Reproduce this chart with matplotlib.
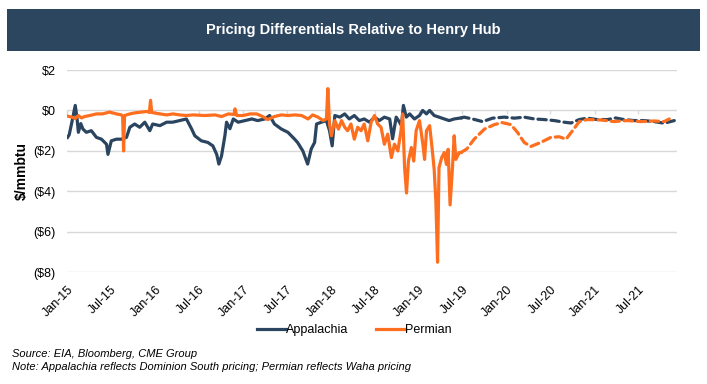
import matplotlib
matplotlib.use("Agg")
import matplotlib.pyplot as plt
import matplotlib.dates as mdates
from matplotlib.patches import Rectangle
import pandas as pd

plt.rcParams['font.family'] = ['Liberation Sans', 'DejaVu Sans']

# ---------------- data ----------------
app_hist_dates = [
    "2015-01-02", "2015-01-09", "2015-01-20", "2015-02-03", "2015-02-10", "2015-02-16",
    "2015-02-26", "2015-03-07", "2015-03-21", "2015-04-11", "2015-05-02", "2015-05-23",
    "2015-06-13", "2015-06-19", "2015-07-03", "2015-07-24", "2015-08-14", "2015-09-04",
    "2015-09-18", "2015-10-08", "2015-10-29", "2015-11-19", "2015-12-10", "2015-12-22",
    "2016-01-21", "2016-02-18", "2016-03-14", "2016-04-12", "2016-05-10", "2016-06-01",
    "2016-06-14", "2016-07-11", "2016-08-07", "2016-08-28", "2016-09-13", "2016-09-22",
    "2016-10-03", "2016-10-17", "2016-10-24", "2016-11-07", "2016-11-21", "2016-12-11",
    "2017-01-09", "2017-02-06", "2017-03-02", "2017-04-01", "2017-04-21", "2017-05-11",
    "2017-06-09", "2017-07-06", "2017-08-03", "2017-08-15", "2017-09-06", "2017-09-26",
    "2017-10-11", "2017-10-25", "2017-11-02", "2017-11-22", "2017-12-13", "2017-12-26",
    "2018-01-06", "2018-01-17", "2018-02-07", "2018-02-27", "2018-03-18", "2018-04-08",
    "2018-04-29", "2018-05-19", "2018-06-10", "2018-07-01", "2018-07-21", "2018-08-11",
    "2018-09-02", "2018-09-14", "2018-09-29", "2018-10-13", "2018-10-21", "2018-10-29",
    "2018-11-10", "2018-11-24", "2018-12-14", "2019-01-04", "2019-01-17", "2019-02-02",
    "2019-02-15", "2019-03-06", "2019-03-26", "2019-04-17", "2019-05-07", "2019-05-28",
    "2019-06-25",
]
app_hist_values = [
    -1.33, -1.20, -0.58, 0.25, -0.33, -1.08,
    -0.65, -0.92, -1.08, -1.00, -1.33, -1.42,
    -1.67, -2.17, -1.50, -1.42, -1.42, -1.33,
    -0.83, -0.67, -0.83, -0.58, -1.00, -0.67,
    -0.75, -0.58, -0.58, -0.50, -0.42, -0.92,
    -1.25, -1.50, -1.58, -1.75, -2.17, -2.65,
    -2.25, -1.25, -0.58, -0.90, -0.42, -0.58,
    -0.50, -0.42, -0.50, -0.42, -0.25, -0.67,
    -0.92, -1.08, -1.42, -1.58, -2.00, -2.65,
    -1.90, -1.58, -0.67, -0.58, -0.50, -1.00,
    -1.75, -0.25, -0.33, -0.17, -0.42, -0.25,
    -0.50, -0.42, -0.58, -0.33, -0.50, -0.33,
    -0.42, -1.40, -0.33, -0.58, -0.75, 0.25,
    -0.33, -0.17, -0.42, -0.25, 0.00, -0.17,
    0.00, -0.25, -0.33, -0.42, -0.50, -0.42,
    -0.37,
]

app_fut_dates = [
    "2019-06-25", "2019-07-08", "2019-08-12", "2019-09-23", "2019-11-04", "2019-12-22",
    "2020-02-03", "2020-03-14", "2020-04-25", "2020-06-05", "2020-07-17", "2020-08-27",
    "2020-09-25", "2020-10-29", "2020-12-01", "2021-01-12", "2021-02-23", "2021-03-29",
    "2021-05-03", "2021-06-14", "2021-07-25", "2021-09-05", "2021-10-17", "2021-11-28",
]
app_fut_values = [
    -0.37, -0.33, -0.42, -0.55, -0.38, -0.33,
    -0.38, -0.33, -0.42, -0.45, -0.50, -0.58,
    -0.62, -0.45, -0.38, -0.45, -0.45, -0.37,
    -0.45, -0.50, -0.50, -0.55, -0.63, -0.50,
]

perm_hist_dates = [
    "2015-01-02", "2015-01-20", "2015-02-03", "2015-02-16", "2015-03-01", "2015-03-14",
    "2015-04-04", "2015-05-02", "2015-05-27", "2015-06-26", "2015-07-24", "2015-08-14",
    "2015-08-19", "2015-08-23", "2015-08-27", "2015-09-18", "2015-10-08", "2015-11-06",
    "2015-11-29", "2015-12-08", "2015-12-13", "2015-12-18", "2016-01-21", "2016-02-18",
    "2016-03-15", "2016-04-12", "2016-05-10", "2016-06-07", "2016-07-25", "2016-09-06",
    "2016-10-03", "2016-11-01", "2016-11-24", "2016-11-28", "2016-12-05", "2017-01-01",
    "2017-01-30", "2017-02-26", "2017-03-23", "2017-04-13", "2017-05-11", "2017-06-09",
    "2017-07-06", "2017-08-03", "2017-09-01", "2017-09-28", "2017-10-17", "2017-11-08",
    "2017-11-29", "2017-12-13", "2017-12-19", "2017-12-26", "2018-01-03", "2018-01-17",
    "2018-02-01", "2018-02-14", "2018-02-27", "2018-03-11", "2018-03-25", "2018-04-08",
    "2018-04-22", "2018-05-06", "2018-05-19", "2018-06-03", "2018-06-17", "2018-07-01",
    "2018-07-14", "2018-07-28", "2018-08-11", "2018-08-25", "2018-09-09", "2018-09-22",
    "2018-10-06", "2018-10-19", "2018-10-26", "2018-11-03", "2018-11-11", "2018-11-19",
    "2018-12-01", "2018-12-11", "2018-12-21", "2019-01-04", "2019-01-18", "2019-01-25",
    "2019-02-02", "2019-02-15", "2019-02-25", "2019-03-06", "2019-03-13", "2019-03-20",
    "2019-03-26", "2019-04-06", "2019-04-17", "2019-04-26", "2019-05-03", "2019-05-11",
    "2019-05-21", "2019-05-28", "2019-06-04", "2019-06-18", "2019-06-25",
]
perm_hist_values = [
    -0.28, -0.33, -0.40, -0.25, -0.37, -0.30,
    -0.25, -0.17, -0.17, -0.08, -0.17, -0.22,
    -0.30, -2.00, -0.25, -0.17, -0.12, -0.08,
    -0.05, -0.10, 0.50, -0.10, -0.17, -0.22,
    -0.17, -0.22, -0.25, -0.22, -0.25, -0.22,
    -0.30, -0.17, -0.20, 0.08, -0.25, -0.25,
    -0.17, -0.17, -0.30, -0.45, -0.30, -0.22,
    -0.25, -0.22, -0.25, -0.42, -0.22, -0.33,
    -0.50, -0.42, 1.08, -0.67, -1.25, -0.50,
    -0.92, -0.50, -0.83, -1.00, -0.67, -1.42,
    -0.83, -1.00, -0.67, -1.50, -0.58, -0.25,
    -0.67, -0.83, -1.67, -1.17, -2.33, -1.67,
    -2.00, -1.00, -0.17, -2.83, -4.08, -2.50,
    -1.83, -2.50, -1.00, -0.50, -1.67, -2.42,
    -1.00, -0.75, -1.83, -2.92, -4.50, -7.50,
    -2.83, -2.33, -2.08, -2.67, -1.92, -4.67,
    -2.83, -1.25, -2.42, -2.08, -2.08,
]

perm_fut_dates = [
    "2019-06-25", "2019-07-20", "2019-08-19", "2019-10-01", "2019-11-11", "2019-12-14",
    "2020-01-19", "2020-02-15", "2020-03-14", "2020-04-11", "2020-05-22", "2020-07-03",
    "2020-08-07", "2020-09-04", "2020-10-01", "2020-10-29", "2020-12-01", "2021-01-28",
    "2021-03-22", "2021-05-16", "2021-07-11", "2021-09-05", "2021-10-17", "2021-11-07",
]
perm_fut_values = [
    -2.08, -1.90, -1.42, -0.92, -0.70, -0.60,
    -0.70, -1.08, -1.58, -1.78, -1.58, -1.33,
    -1.30, -1.42, -1.00, -0.55, -0.45, -0.47,
    -0.55, -0.50, -0.55, -0.52, -0.55, -0.42,
]

series_names = ["Appalachia", "Permian"]
y_ticks = [2, 0, -2, -4, -6, -8]
y_tick_labels = ["$2", "$0", "($2)", "($4)", "($6)", "($8)"]
x_tick_labels = ["Jan-15", "Jul-15", "Jan-16", "Jul-16", "Jan-17", "Jul-17", "Jan-18",
                 "Jul-18", "Jan-19", "Jul-19", "Jan-20", "Jul-20", "Jan-21", "Jul-21"]

title_text = "Pricing Differentials Relative to Henry Hub"
source_text = "Source: EIA, Bloomberg, CME Group"
note_text = "Note: Appalachia reflects Dominion South pricing; Permian reflects Waha pricing"

# ---------------- style ----------------
NAVY = "#2b4560"
BAR = "#2d4660"
ORANGE = "#fd6f1f"
GRID = "#d9d9d9"

W, H = 707, 384
fig = plt.figure(figsize=(W / 100, H / 100), dpi=100)

# title bar
fig.patches.append(Rectangle((7 / W, 1 - 51 / H), 693 / W, 42 / H,
                             transform=fig.transFigure, facecolor=BAR,
                             edgecolor="none", zorder=0))
fig.text(353.5 / W, 1 - 30 / H, title_text, color="white", fontsize=10.5,
         fontweight="bold", ha="center", va="center")

ax = fig.add_axes([67.3 / W, 1 - 272.3 / H, (676.7 - 67.3) / W, (272.3 - 70) / H])

ad = pd.to_datetime(app_hist_dates)
af = pd.to_datetime(app_fut_dates)
pdh = pd.to_datetime(perm_hist_dates)
pf = pd.to_datetime(perm_fut_dates)

LW = 2.3
ax.plot(ad, app_hist_values, color=NAVY, lw=LW, solid_joinstyle="round", zorder=3,
        label=series_names[0])
ax.plot(af, app_fut_values, color=NAVY, lw=LW, ls=(0, (2.6, 1.5)), dash_capstyle="round",
        zorder=3)
ax.plot(pdh, perm_hist_values, color=ORANGE, lw=LW, solid_joinstyle="round", zorder=4,
        label=series_names[1])
ax.plot(pf, perm_fut_values, color=ORANGE, lw=LW, ls=(0, (2.6, 1.5)), dash_capstyle="round",
        zorder=4)

ax.set_ylim(-8, 2)
ax.set_yticks(y_ticks)
ax.set_yticklabels(y_tick_labels)
ax.set_xlim(pd.Timestamp("2015-01-01"), pd.Timestamp("2021-12-08"))
xt = pd.date_range("2015-01-01", periods=len(x_tick_labels), freq="6MS")
ax.set_xticks(xt)
ax.set_xticklabels(x_tick_labels, rotation=45, ha="right", va="top",
                   rotation_mode="anchor", fontsize=9)
ax.tick_params(axis="x", length=0, pad=8)
ax.tick_params(axis="y", length=0, pad=8.5, labelsize=9)
ax.grid(axis="y", color=GRID, lw=1)
ax.set_axisbelow(True)
for s in ax.spines.values():
    s.set_visible(False)

# small tick marks on the zero line
sec = ax.secondary_xaxis(0.8)
sec.set_xticks(xt)
sec.set_xticklabels([""] * len(xt))
sec.tick_params(axis="x", direction="in", length=3, color=GRID, width=1,
                labelbottom=False, labeltop=False)
for s in sec.spines.values():
    s.set_visible(False)

fig.text(22.0 / W, 1 - 171.5 / H, "$/mmbtu", rotation=90, fontsize=10,
         fontweight="bold", ha="center", va="center")

fig.legend(loc="center", bbox_to_anchor=(354.4 / W, 1 - 330 / H), ncol=2, frameon=False,
           fontsize=9, handlelength=2.3, handletextpad=0.05, columnspacing=2.2)

fig.text(12.5 / W, 1 - 354 / H, source_text, fontsize=8, style="italic",
         ha="left", va="center")
fig.text(12.5 / W, 1 - 367 / H, note_text, fontsize=8, style="italic",
         ha="left", va="center")

fig.savefig("out.png", dpi=100)
